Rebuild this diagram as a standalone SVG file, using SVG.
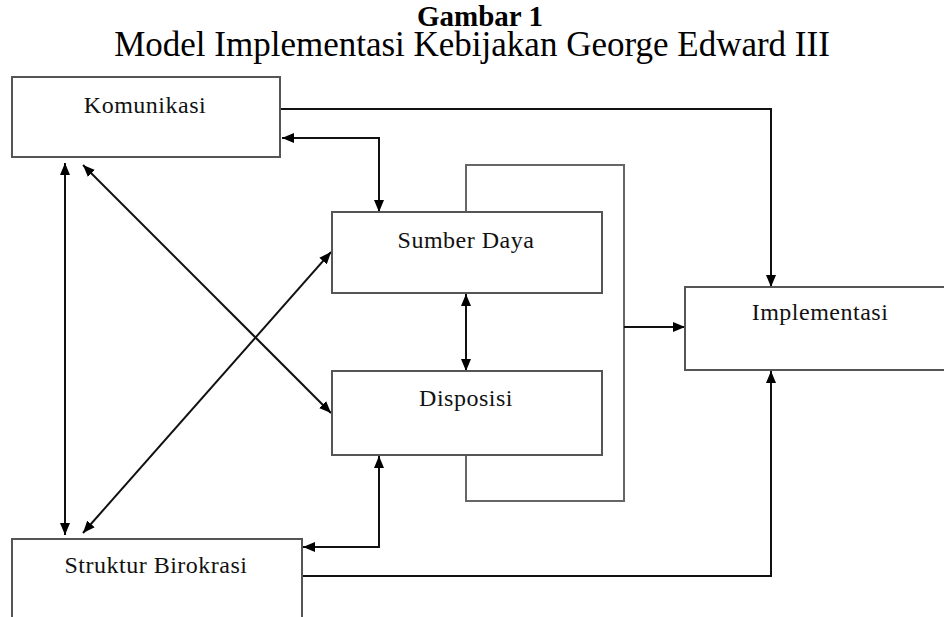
<svg xmlns="http://www.w3.org/2000/svg" width="944" height="617" viewBox="0 0 944 617">
  <style>
    .box { fill: #fff; stroke: #555; stroke-width: 2; }
    .label { font-family: "Liberation Serif", "Times New Roman", serif; font-size: 24px; fill: #111; text-anchor: middle; letter-spacing: 0.5px; }
    .title { font-family: "Liberation Serif", "Times New Roman", serif; fill: #000; text-anchor: middle; }
    .wire { fill: none; stroke: #111; stroke-width: 2; }
    .frame { fill: none; stroke: #666; stroke-width: 2; }
  </style>
  <defs>
    <marker id="arrow" viewBox="0 0 12 10" refX="12" refY="5" markerWidth="12" markerHeight="10" markerUnits="userSpaceOnUse" orient="auto-start-reverse">
      <path d="M0,0 L12,5 L0,10 z" fill="#000"/>
    </marker>
  </defs>
  <rect width="944" height="617" fill="#fff"/>

  <text class="title" x="480" y="26" font-size="29" font-weight="bold">Gambar 1</text>
  <text class="title" x="472" y="56" font-size="35">Model Implementasi Kebijakan George Edward III</text>

  <g id="connectors">
    <!-- Sumber Daya / Disposisi bracket -->
    <path class="frame" d="M466,212 V165 H624 V501 H466 V455"/>
    <path class="wire" d="M280,109 H771 V287" marker-end="url(#arrow)"/>
    <path class="wire" d="M282,138 H379 V212" marker-start="url(#arrow)" marker-end="url(#arrow)"/>
    <path class="wire" d="M466,294 V371" marker-start="url(#arrow)" marker-end="url(#arrow)"/>
    <path class="wire" d="M624,327 H685" marker-end="url(#arrow)"/>
    <path class="wire" d="M302,576 H771 V371" marker-end="url(#arrow)"/>
    <path class="wire" d="M379,456 V547 H303" marker-start="url(#arrow)" marker-end="url(#arrow)"/>
    <path class="wire" d="M65,163 V535" marker-start="url(#arrow)" marker-end="url(#arrow)"/>
    <path class="wire" d="M83,165 L331,413" marker-start="url(#arrow)" marker-end="url(#arrow)"/>
    <path class="wire" d="M83,533 L331,252" marker-start="url(#arrow)" marker-end="url(#arrow)"/>
  </g>

  <g id="komunikasi">
    <rect class="box" x="12" y="77" width="268" height="80"/>
    <text class="label" x="145" y="113">Komunikasi</text>
  </g>
  <g id="sumber-daya">
    <rect class="box" x="332" y="212" width="270" height="81"/>
    <text class="label" x="466" y="248">Sumber Daya</text>
  </g>
  <g id="disposisi">
    <rect class="box" x="332" y="371" width="270" height="84"/>
    <text class="label" x="466" y="406">Disposisi</text>
  </g>
  <g id="implementasi">
    <rect class="box" x="685" y="287" width="270" height="83"/>
    <text class="label" x="820" y="320">Implementasi</text>
  </g>
  <g id="struktur-birokrasi">
    <rect class="box" x="12" y="539" width="290" height="90"/>
    <text class="label" x="156" y="573">Struktur Birokrasi</text>
  </g>
</svg>
